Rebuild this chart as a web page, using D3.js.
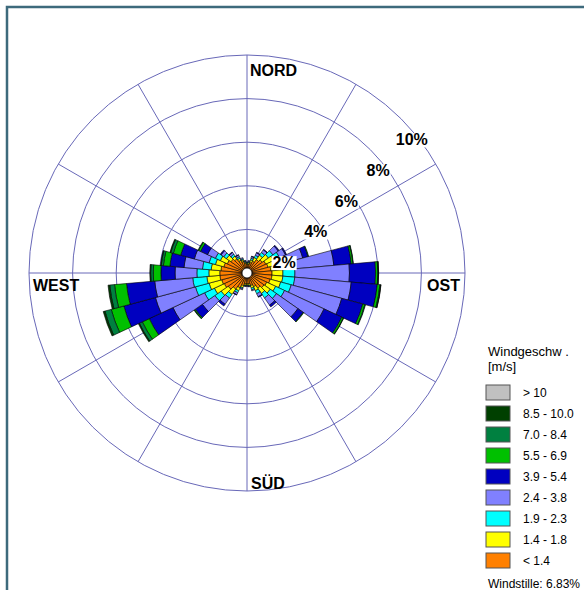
<!DOCTYPE html>
<html>
<head>
<meta charset="utf-8">
<script src="https://cdn.jsdelivr.net/npm/d3@7"></script>
<style>
  html, body { margin: 0; padding: 0; background: #fff; }
  svg { display: block; }
</style>
</head>
<body>
<svg id="chart" width="584" height="590"></svg>
<script>
// Wind direction sectors (degrees, centre of each 10° sector)
const directions = d3.range(10, 361, 10);

// Speed classes, from the innermost (slowest) to the outermost
const classLabels = ["< 1.4", "1.4 - 1.8", "1.9 - 2.3", "2.4 - 3.8", "3.9 - 5.4", "5.5 - 6.9", "7.0 - 8.4", "8.5 - 10.0", "> 10"];
const classColors = ["#ff8000", "#ffff00", "#00ffff", "#8080ff", "#0000c0", "#00c000", "#008040", "#004000", "#c0c0c0"];

// Frequency (%) per direction sector for each speed class
const cls1 = [0.40,0.50,0.60,0.75,0.85,0.95,1.00,1.10,1.15,1.15,1.10,1.00,0.95,0.85,0.70,0.60,0.50,0.50,0.50,0.60,0.75,0.90,1.05,1.15,1.20,1.25,1.25,1.20,1.10,1.00,0.90,0.80,0.65,0.55,0.45,0.40];
const cls2 = [0.08,0.12,0.18,0.25,0.35,0.40,0.45,0.50,0.50,0.50,0.50,0.45,0.35,0.30,0.20,0.12,0.08,0.06,0.07,0.10,0.15,0.30,0.40,0.50,0.60,0.60,0.50,0.45,0.40,0.35,0.25,0.15,0.10,0.08,0.06,0.05];
const cls3 = [0.05,0.08,0.12,0.15,0.25,0.30,0.40,0.50,0.55,0.55,0.50,0.45,0.35,0.25,0.15,0.08,0.04,0.03,0.03,0.05,0.10,0.20,0.35,0.50,0.65,0.65,0.55,0.40,0.30,0.25,0.15,0.10,0.08,0.05,0.04,0.03];
const cls4 = [0.05,0.08,0.12,0.15,0.30,0.30,0.80,1.90,2.50,2.60,2.40,2.00,1.20,0.40,0.15,0.05,0.02,0.02,0.02,0.05,0.10,0.35,0.70,1.60,1.90,1.75,1.00,0.85,0.70,0.40,0.15,0.10,0.08,0.05,0.03,0.03];
const cls5 = [0.00,0.02,0.03,0.03,0.05,0.05,0.25,0.80,1.20,1.20,1.00,0.90,0.30,0.10,0.03,0.00,0.00,0.00,0.00,0.00,0.02,0.10,0.40,1.20,1.50,1.30,0.65,0.65,0.65,0.35,0.05,0.03,0.02,0.00,0.00,0.00];
const cls6 = [0,0,0,0,0,0,0.03,0.08,0.10,0.12,0.10,0.08,0.03,0,0,0,0,0,0,0,0,0,0.05,0.35,0.60,0.55,0.35,0.30,0.35,0.10,0,0,0,0,0,0];
const cls7 = [0,0,0,0,0,0,0,0.02,0.03,0.04,0.03,0.02,0,0,0,0,0,0,0,0,0,0,0.02,0.15,0.30,0.22,0.12,0.10,0.12,0.03,0,0,0,0,0,0];
const cls8 = [0,0,0,0,0,0,0,0,0.01,0.01,0,0,0,0,0,0,0,0,0,0,0,0,0,0.05,0.08,0.08,0.04,0.03,0.04,0,0,0,0,0,0,0];
const cls9 = new Array(36).fill(0);
const classValues = [cls1, cls2, cls3, cls4, cls5, cls6, cls7, cls8, cls9];

// Rings and their labels
const ringValues = [2, 4, 6, 8, 10];
const ringLabels = ["2%", "4%", "6%", "8%", "10%"];
const compassLabels = ["NORD", "OST", "SÜD", "WEST"];
const calmText = "Windstille: 6.83%";
const legendTitle = ["Windgeschw .", "[m/s]"];

const svg = d3.select("#chart");
const cx = 247, cy = 273;
const r = d3.scaleLinear().domain([0, 10]).range([0, 218]);
const calmR = 5;
const gridColor = "#6868b8";

// page frame
svg.append("path")
  .attr("d", "M7,590 L7,7 L584,7")
  .attr("fill", "none").attr("stroke", "#3d6a7c").attr("stroke-width", 2.5);

const g = svg.append("g").attr("transform", `translate(${cx},${cy})`);

// rings
g.selectAll("circle.ring").data(ringValues).join("circle")
  .attr("class", "ring")
  .attr("r", d => r(d))
  .attr("fill", "none").attr("stroke", gridColor).attr("stroke-width", 1);

// spokes every 30°
const rad = deg => deg * Math.PI / 180;
g.selectAll("line.spoke").data(d3.range(0, 360, 30)).join("line")
  .attr("class", "spoke")
  .attr("x1", 0).attr("y1", 0)
  .attr("x2", d => r(10) * Math.sin(rad(d)))
  .attr("y2", d => -r(10) * Math.cos(rad(d)))
  .attr("stroke", gridColor).attr("stroke-width", 1);

// stacked sectors
const stacked = directions.map((dir, i) => {
  let acc = 0;
  return classValues.map((vals, k) => {
    const v0 = acc; acc += vals[i];
    return { dir, k, v0, v1: acc };
  }).filter(s => s.v1 > s.v0);
});
const arc = d3.arc()
  .innerRadius(s => Math.max(calmR, r(s.v0)))
  .outerRadius(s => Math.max(calmR, r(s.v1)))
  .startAngle(s => rad(s.dir - 5))
  .endAngle(s => rad(s.dir + 5));

g.selectAll("g.sector").data(stacked).join("g")
  .attr("class", "sector")
  .selectAll("path").data(d => d).join("path")
  .attr("d", arc)
  .attr("fill", s => classColors[s.k])
  .attr("stroke", "#000").attr("stroke-width", 0.6).attr("stroke-linejoin", "miter");

// calm circle
g.append("circle").attr("r", calmR)
  .attr("fill", "#fff").attr("stroke", "#000").attr("stroke-width", 0.8);

// ring labels along the upper right
const labelAngles = [74, 59, 54, 52, 51];
const labelInset = [5, 7, 8, 8, 6];
ringValues.forEach((v, i) => {
  const rr = r(v) - labelInset[i];
  const a = rad(labelAngles[i]);
  const x = rr * Math.sin(a), y = -rr * Math.cos(a);
  const t = g.append("text")
    .attr("x", x).attr("y", y).attr("dy", "0.36em")
    .attr("text-anchor", "middle")
    .attr("font-family", "Liberation Sans, Arial, sans-serif")
    .attr("font-weight", "bold").attr("font-size", 16)
    .text(ringLabels[i]);
  const bb = t.node().getBBox();
  g.insert("rect", () => t.node())
    .attr("x", bb.x - 1).attr("y", bb.y + 2).attr("width", bb.width + 2).attr("height", bb.height - 3)
    .attr("fill", "#fff");
});

// compass labels
const compassPos = [
  { x: 3, y: -197, anchor: "start" },
  { x: 213, y: 18, anchor: "end" },
  { x: 4, y: 216, anchor: "start" },
  { x: -214, y: 18, anchor: "start" }
];
compassLabels.forEach((txt, i) => {
  g.append("text")
    .attr("x", compassPos[i].x).attr("y", compassPos[i].y)
    .attr("text-anchor", compassPos[i].anchor)
    .attr("font-family", "Liberation Sans, Arial, sans-serif")
    .attr("font-weight", "bold").attr("font-size", 16)
    .text(txt);
});

// legend
const legend = svg.append("g").attr("transform", "translate(486,345)");
legend.selectAll("text.title").data(legendTitle).join("text")
  .attr("class", "title")
  .attr("x", 2).attr("y", (d, i) => 11 + i * 15)
  .attr("font-family", "Liberation Sans, Arial, sans-serif").attr("font-size", 13)
  .text(d => d);

const legendOrder = d3.range(classLabels.length).reverse();
const items = legend.selectAll("g.item").data(legendOrder).join("g")
  .attr("class", "item")
  .attr("transform", (d, i) => `translate(0,${40 + i * 21})`);
items.append("rect")
  .attr("width", 24).attr("height", 15)
  .attr("fill", k => classColors[k]).attr("stroke", "#555").attr("stroke-width", 1);
items.append("text")
  .attr("x", 37).attr("y", 12)
  .attr("font-family", "Liberation Sans, Arial, sans-serif").attr("font-size", 12)
  .text(k => classLabels[k]);

legend.append("text")
  .attr("x", 2).attr("y", 243)
  .attr("font-family", "Liberation Sans, Arial, sans-serif").attr("font-size", 12)
  .text(calmText);
</script>
</body>
</html>
